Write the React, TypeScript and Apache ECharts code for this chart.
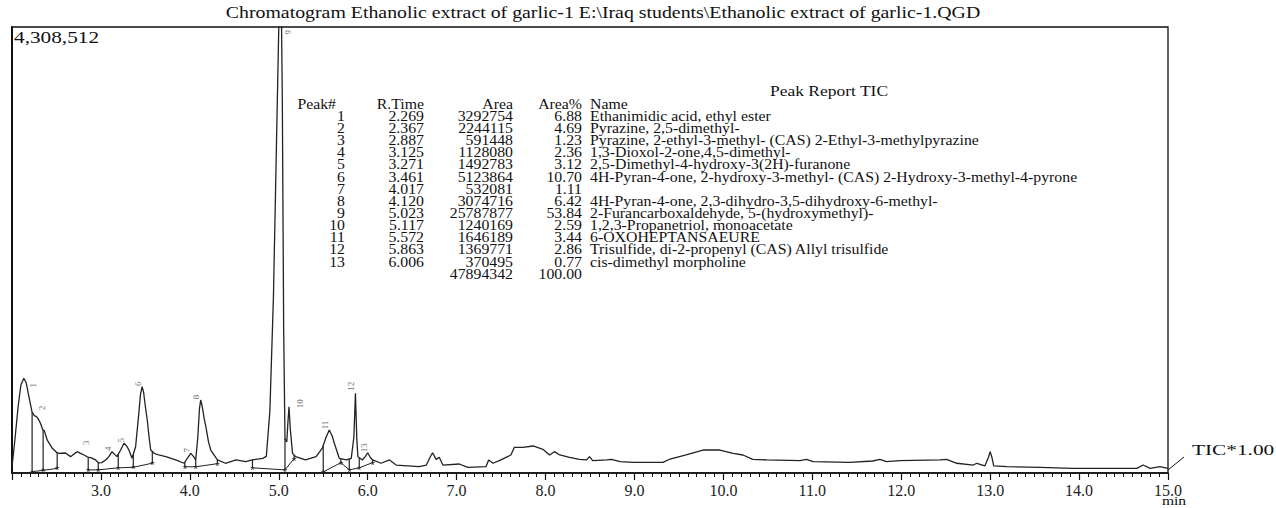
import React, { useEffect, useRef } from "react";
import * as echarts from "echarts";

// ---------- axis ranges ----------
const X_MIN = 2.0;
const X_MAX = 15.0;
const Y_MAX = 4308512;

// ---------- TIC trace (retention time, min) ----------
const traceTime = [
  2.0, 2.03, 2.07, 2.1, 2.133, 2.16, 2.19, 2.225, 2.25, 2.27, 2.29, 2.32, 2.345, 2.365, 2.395,
  2.45, 2.5, 2.53, 2.6, 2.66, 2.7, 2.735, 2.77, 2.81, 2.86, 2.887, 2.94, 2.977, 3.01, 3.06,
  3.09, 3.125, 3.16, 3.18, 3.22, 3.26, 3.29, 3.315, 3.35, 3.39, 3.42, 3.445, 3.463, 3.48, 3.5,
  3.521, 3.545, 3.56, 3.6, 3.65, 3.73, 3.84, 3.935, 3.97, 4.01, 4.04, 4.066, 4.09, 4.108, 4.122,
  4.14, 4.16, 4.18, 4.21, 4.235, 4.31, 4.4, 4.52, 4.63, 4.7, 4.82, 4.86, 4.9, 4.94, 4.97,
  5.0, 5.023, 5.04, 5.055, 5.07, 5.09, 5.105, 5.115, 5.13, 5.155, 5.19, 5.3, 5.42, 5.49, 5.53,
  5.568, 5.6, 5.625, 5.68, 5.76, 5.815, 5.845, 5.862, 5.878, 5.89, 5.94, 5.975, 6.0, 6.03, 6.055,
  6.15, 6.245, 6.32, 6.58, 6.66, 6.7, 6.73, 6.77, 6.805, 6.845, 7.03, 7.125, 7.33, 7.36, 7.41,
  7.48, 7.61, 7.65, 7.745, 7.86, 7.97, 8.045, 8.1, 8.16, 8.27, 8.38, 8.46, 8.495, 8.53, 8.69,
  8.74, 8.84, 8.99, 9.32, 9.4, 9.58, 9.77, 9.96, 10.11, 10.22, 10.33, 10.49, 10.86, 10.935, 11.01,
  11.42, 11.68, 11.76, 11.835, 11.985, 12.435, 12.51, 12.625, 12.81, 12.85, 12.94, 12.98, 13.0, 13.02, 13.04,
  13.19, 13.56, 13.93, 14.65, 14.72, 14.8, 14.91, 15.0,
];
const traceIntensity = [
  60000, 300000, 650000, 850000, 915000, 870000, 737000, 590000, 555000, 548000, 530000, 480000, 420000, 405000, 320000,
  242000, 200000, 190000, 193000, 158000, 185000, 206000, 190000, 174000, 150000, 148000, 126000, 97000, 100000, 130000,
  158000, 206000, 175000, 158000, 220000, 287000, 260000, 222000, 142000, 254000, 520000, 760000, 834000, 780000, 640000,
  512000, 320000, 222000, 190000, 174000, 158000, 126000, 94000, 140000, 190000, 160000, 126000, 350000, 620000, 705000,
  640000, 530000, 447000, 300000, 222000, 126000, 94000, 126000, 109000, 126000, 142000, 160000, 600000, 1700000, 3000000,
  4300000, 5000000, 3600000, 1400000, 330000, 300000, 520000, 640000, 420000, 190000, 158000, 126000, 158000, 240000, 340000,
  415000, 360000, 287000, 142000, 126000, 142000, 350000, 770000, 320000, 157000, 126000, 160000, 196000, 150000, 126000,
  94000, 126000, 77000, 61000, 77000, 150000, 196000, 132000, 152000, 77000, 87000, 55000, 61000, 126000, 94000,
  119000, 174000, 248000, 248000, 261000, 229000, 174000, 206000, 174000, 152000, 132000, 126000, 158000, 119000, 126000,
  132000, 109000, 103000, 103000, 135000, 174000, 222000, 222000, 190000, 174000, 132000, 126000, 119000, 132000, 109000,
  103000, 116000, 132000, 109000, 119000, 126000, 132000, 94000, 77000, 94000, 68000, 150000, 206000, 150000, 68000,
  61000, 55000, 45000, 45000, 77000, 45000, 61000, 45000,
];

// ---------- peak report ----------
const peakNo = [1, 2, 3, 4, 5, 6, 7, 8, 9, 10, 11, 12, 13];
const peakRT = ["2.269", "2.367", "2.887", "3.125", "3.271", "3.461", "4.017", "4.120", "5.023", "5.117", "5.572", "5.863", "6.006"];
const peakArea = [3292754, 2244115, 591448, 1128080, 1492783, 5123864, 532081, 3074716, 25787877, 1240169, 1646189, 1369771, 370495];
const peakAreaPct = ["6.88", "4.69", "1.23", "2.36", "3.12", "10.70", "1.11", "6.42", "53.84", "2.59", "3.44", "2.86", "0.77"];
const peakName = [
  "Ethanimidic acid, ethyl ester",
  "Pyrazine, 2,5-dimethyl-",
  "Pyrazine, 2-ethyl-3-methyl- (CAS) 2-Ethyl-3-methylpyrazine",
  "1,3-Dioxol-2-one,4,5-dimethyl-",
  "2,5-Dimethyl-4-hydroxy-3(2H)-furanone",
  "4H-Pyran-4-one, 2-hydroxy-3-methyl- (CAS) 2-Hydroxy-3-methyl-4-pyrone",
  "",
  "4H-Pyran-4-one, 2,3-dihydro-3,5-dihydroxy-6-methyl-",
  "2-Furancarboxaldehyde, 5-(hydroxymethyl)-",
  "1,2,3-Propanetriol, monoacetate",
  "6-OXOHEPTANSAEURE",
  "Trisulfide, di-2-propenyl (CAS) Allyl trisulfide",
  "cis-dimethyl morpholine",
];
const totalArea = 47894342;
const totalPct = "100.00";
// apex heights
const peakApex = [548000, 405000, 148000, 206000, 287000, 834000, 190000, 705000, 5000000, 640000, 415000, 770000, 196000];

// ---------- integration marks (drop lines / baseline) ----------
const dropTime = [2.226, 2.35, 2.508, 2.857, 2.97, 3.195, 3.364, 3.578, 3.943, 4.066, 4.31, 4.704, 5.07, 5.173, 5.5, 5.699, 5.793, 5.905, 6.055];
const dropBase = [13000, 25000, 45000, 30000, 30000, 50000, 55000, 95000, 60000, 60000, 90000, 50000, 30000, 140000, 10000, 100000, 30000, 50000, 100000];
const dropGroup = [1, 1, 1, 2, 2, 2, 2, 2, 3, 3, 3, 4, 4, 4, 5, 5, 5, 5, 5];

// ---------- texts ----------
const titleText = "Chromatogram Ethanolic extract of garlic-1 E:\\Iraq students\\Ethanolic extract of garlic-1.QGD";
const scaleText = "4,308,512";
const reportTitle = "Peak Report TIC";
const headers = ["Peak#", "R.Time", "Area", "Area%", "Name"];
const ticText = "TIC*1.00";
const unitText = "min";

const SERIF = '"Liberation Serif", "Times New Roman", serif';
const INK = "#111111";

function interp(t: number): number {
  for (let i = 1; i < traceTime.length; i++) {
    if (traceTime[i] >= t) {
      const t0 = traceTime[i - 1], t1 = traceTime[i];
      const f = (t - t0) / (t1 - t0);
      return traceIntensity[i - 1] + f * (traceIntensity[i] - traceIntensity[i - 1]);
    }
  }
  return traceIntensity[traceIntensity.length - 1];
}

function txt(text: string, x: number, y: number, size: number, align: string, sx: number) {
  return {
    type: "text",
    x,
    y,
    scaleX: sx,
    silent: true,
    style: {
      text,
      fontSize: size,
      fontFamily: SERIF,
      fill: INK,
      align,
      textAlign: align,
      verticalAlign: "middle",
      textVerticalAlign: "middle",
    },
  };
}

export default function App() {
  const ref = useRef<HTMLDivElement>(null);

  useEffect(() => {
    if (!ref.current) return;
    const chart = echarts.init(ref.current, null, { renderer: "svg" });

    // table layout
    const colRight = [345, 424, 513, 582];
    const nameX = 590;
    const rowY0 = 104;
    const rowStep = 12.14;
    const tSize = 14;
    const SX = 1.13;
    const g: any[] = [];
    g.push(txt(titleText, 603, 13, 16, "center", 1.24));
    g.push(txt(scaleText, 14, 37, 16, "left", 1.33));
    g.push(txt(reportTitle, 829, 91, 14, "center", 1.25));
    g.push(txt(headers[0], 336, rowY0, tSize, "right", SX));
    g.push(txt(headers[1], colRight[1], rowY0, tSize, "right", SX));
    g.push(txt(headers[2], colRight[2], rowY0, tSize, "right", SX));
    g.push(txt(headers[3], colRight[3], rowY0, tSize, "right", SX));
    g.push(txt(headers[4], nameX, rowY0, tSize, "left", SX));
    peakNo.forEach((n, i) => {
      const y = rowY0 + rowStep * (i + 1);
      g.push(txt(String(n), colRight[0], y, tSize, "right", SX));
      g.push(txt(peakRT[i], colRight[1], y, tSize, "right", SX));
      g.push(txt(String(peakArea[i]), colRight[2], y, tSize, "right", SX));
      g.push(txt(peakAreaPct[i], colRight[3], y, tSize, "right", SX));
      if (peakName[i]) g.push(txt(peakName[i], nameX, y, tSize, "left", SX));
    });
    const yTot = rowY0 + rowStep * (peakNo.length + 1);
    g.push(txt(String(totalArea), colRight[2], yTot, tSize, "right", SX));
    g.push(txt(totalPct, colRight[3], yTot, tSize, "right", SX));
    g.push({
      type: "line",
      silent: true,
      shape: { x1: 1168, y1: 470, x2: 1184, y2: 457 },
      style: { stroke: INK, lineWidth: 1 },
    });
    g.push(txt(ticText, 1192, 450, 15, "left", 1.42));
    g.push(txt(unitText, 1174, 500, 13, "center", 1.2));

    // baseline segments
    const baseData: any[] = [];
    dropTime.forEach((t, i) => {
      if (i > 0 && dropGroup[i] !== dropGroup[i - 1]) baseData.push(null);
      baseData.push([t, dropBase[i]]);
    });

    // label lift (px up) and shift (px right); rotated labels use a rotated offset frame
    const labelLift = [28, 20, 12, 0, 0, 0, 0, 0, 0, 0, 2, 4, 2];
    const labelShift = [2, 2, 0, 0, 0, 1, 0, 0, 3, 15, 0, 0, 0];

    const option: any = {
      animation: false,
      backgroundColor: "#ffffff",
      grid: {
        left: 12,
        top: 27,
        width: 1156,
        height: 446,
        show: true,
        borderColor: INK,
        borderWidth: 1.3,
        containLabel: false,
      },
      xAxis: {
        type: "value",
        min: X_MIN,
        max: X_MAX,
        interval: 1,
        axisLine: { show: true, lineStyle: { color: INK, width: 1.5 } },
        axisTick: { show: true, length: 7, lineStyle: { color: INK, width: 1.2 } },
        minorTick: { show: true, splitNumber: 10, length: 4, lineStyle: { color: INK, width: 1 } },
        splitLine: { show: false },
        minorSplitLine: { show: false },
        axisLabel: {
          showMinLabel: false,
          formatter: (v: number) => v.toFixed(1),
          fontFamily: SERIF,
          fontSize: 16,
          color: "#222",
          margin: 9,
        },
      },
      yAxis: {
        type: "value",
        min: 0,
        max: Y_MAX,
        axisLine: { show: true, lineStyle: { color: INK, width: 2 } },
        axisTick: { show: false },
        axisLabel: { show: false },
        splitLine: { show: false },
      },
      series: [
        {
          type: "line",
          name: "TIC",
          data: traceTime.map((t, i) => [t, traceIntensity[i]]),
          showSymbol: false,
          symbol: "none",
          clip: true,
          lineStyle: { color: "#222", width: 1.3 },
          z: 3,
        },
        {
          type: "line",
          name: "baseline",
          data: baseData,
          connectNulls: false,
          showSymbol: false,
          symbol: "none",
          lineStyle: { color: "#222", width: 1 },
          z: 2,
        },
        {
          type: "custom",
          name: "drops",
          data: dropTime.map((t, i) => [t, interp(t), dropBase[i]]),
          encode: { x: 0, y: 1 },
          renderItem: (params: any, api: any) => {
            const t = api.value(0);
            const p1 = api.coord([t, api.value(1)]);
            const p2 = api.coord([t, api.value(2)]);
            return {
              type: "group",
              children: [
                {
                  type: "line",
                  shape: { x1: p1[0], y1: p1[1], x2: p2[0], y2: p2[1] },
                  style: { stroke: "#222", lineWidth: 1.2 },
                },
                {
                  type: "text",
                  x: p2[0],
                  y: p2[1] + 2,
                  style: { text: "*", fontSize: 11, fill: "#222", align: "center", verticalAlign: "middle", textAlign: "center", textVerticalAlign: "middle" },
                },
              ],
            };
          },
          z: 2,
        },
        {
          type: "scatter",
          name: "peaks",
          symbolSize: 0,
          clip: false,
          data: peakNo.map((n, i) => {
            const over = peakApex[i] > Y_MAX;
            return {
              value: [parseFloat(peakRT[i]), over ? Y_MAX * 0.995 : peakApex[i]],
              label: {
                show: true,
                formatter: String(n),
                position: over ? "bottom" : "top",
                distance: 3,
                rotate: 90,
                offset: [labelLift[i], labelShift[i]],
                fontSize: 9,
                fontFamily: SERIF,
                color: "#444",
              },
            };
          }),
          z: 4,
        },
      ],
      graphic: g,
    };

    chart.setOption(option);
    return () => chart.dispose();
  }, []);

  return (
    <div
      ref={ref}
      style={{ position: "absolute", left: 0, top: 0, width: 1276, height: 508 }}
    />
  );
}
